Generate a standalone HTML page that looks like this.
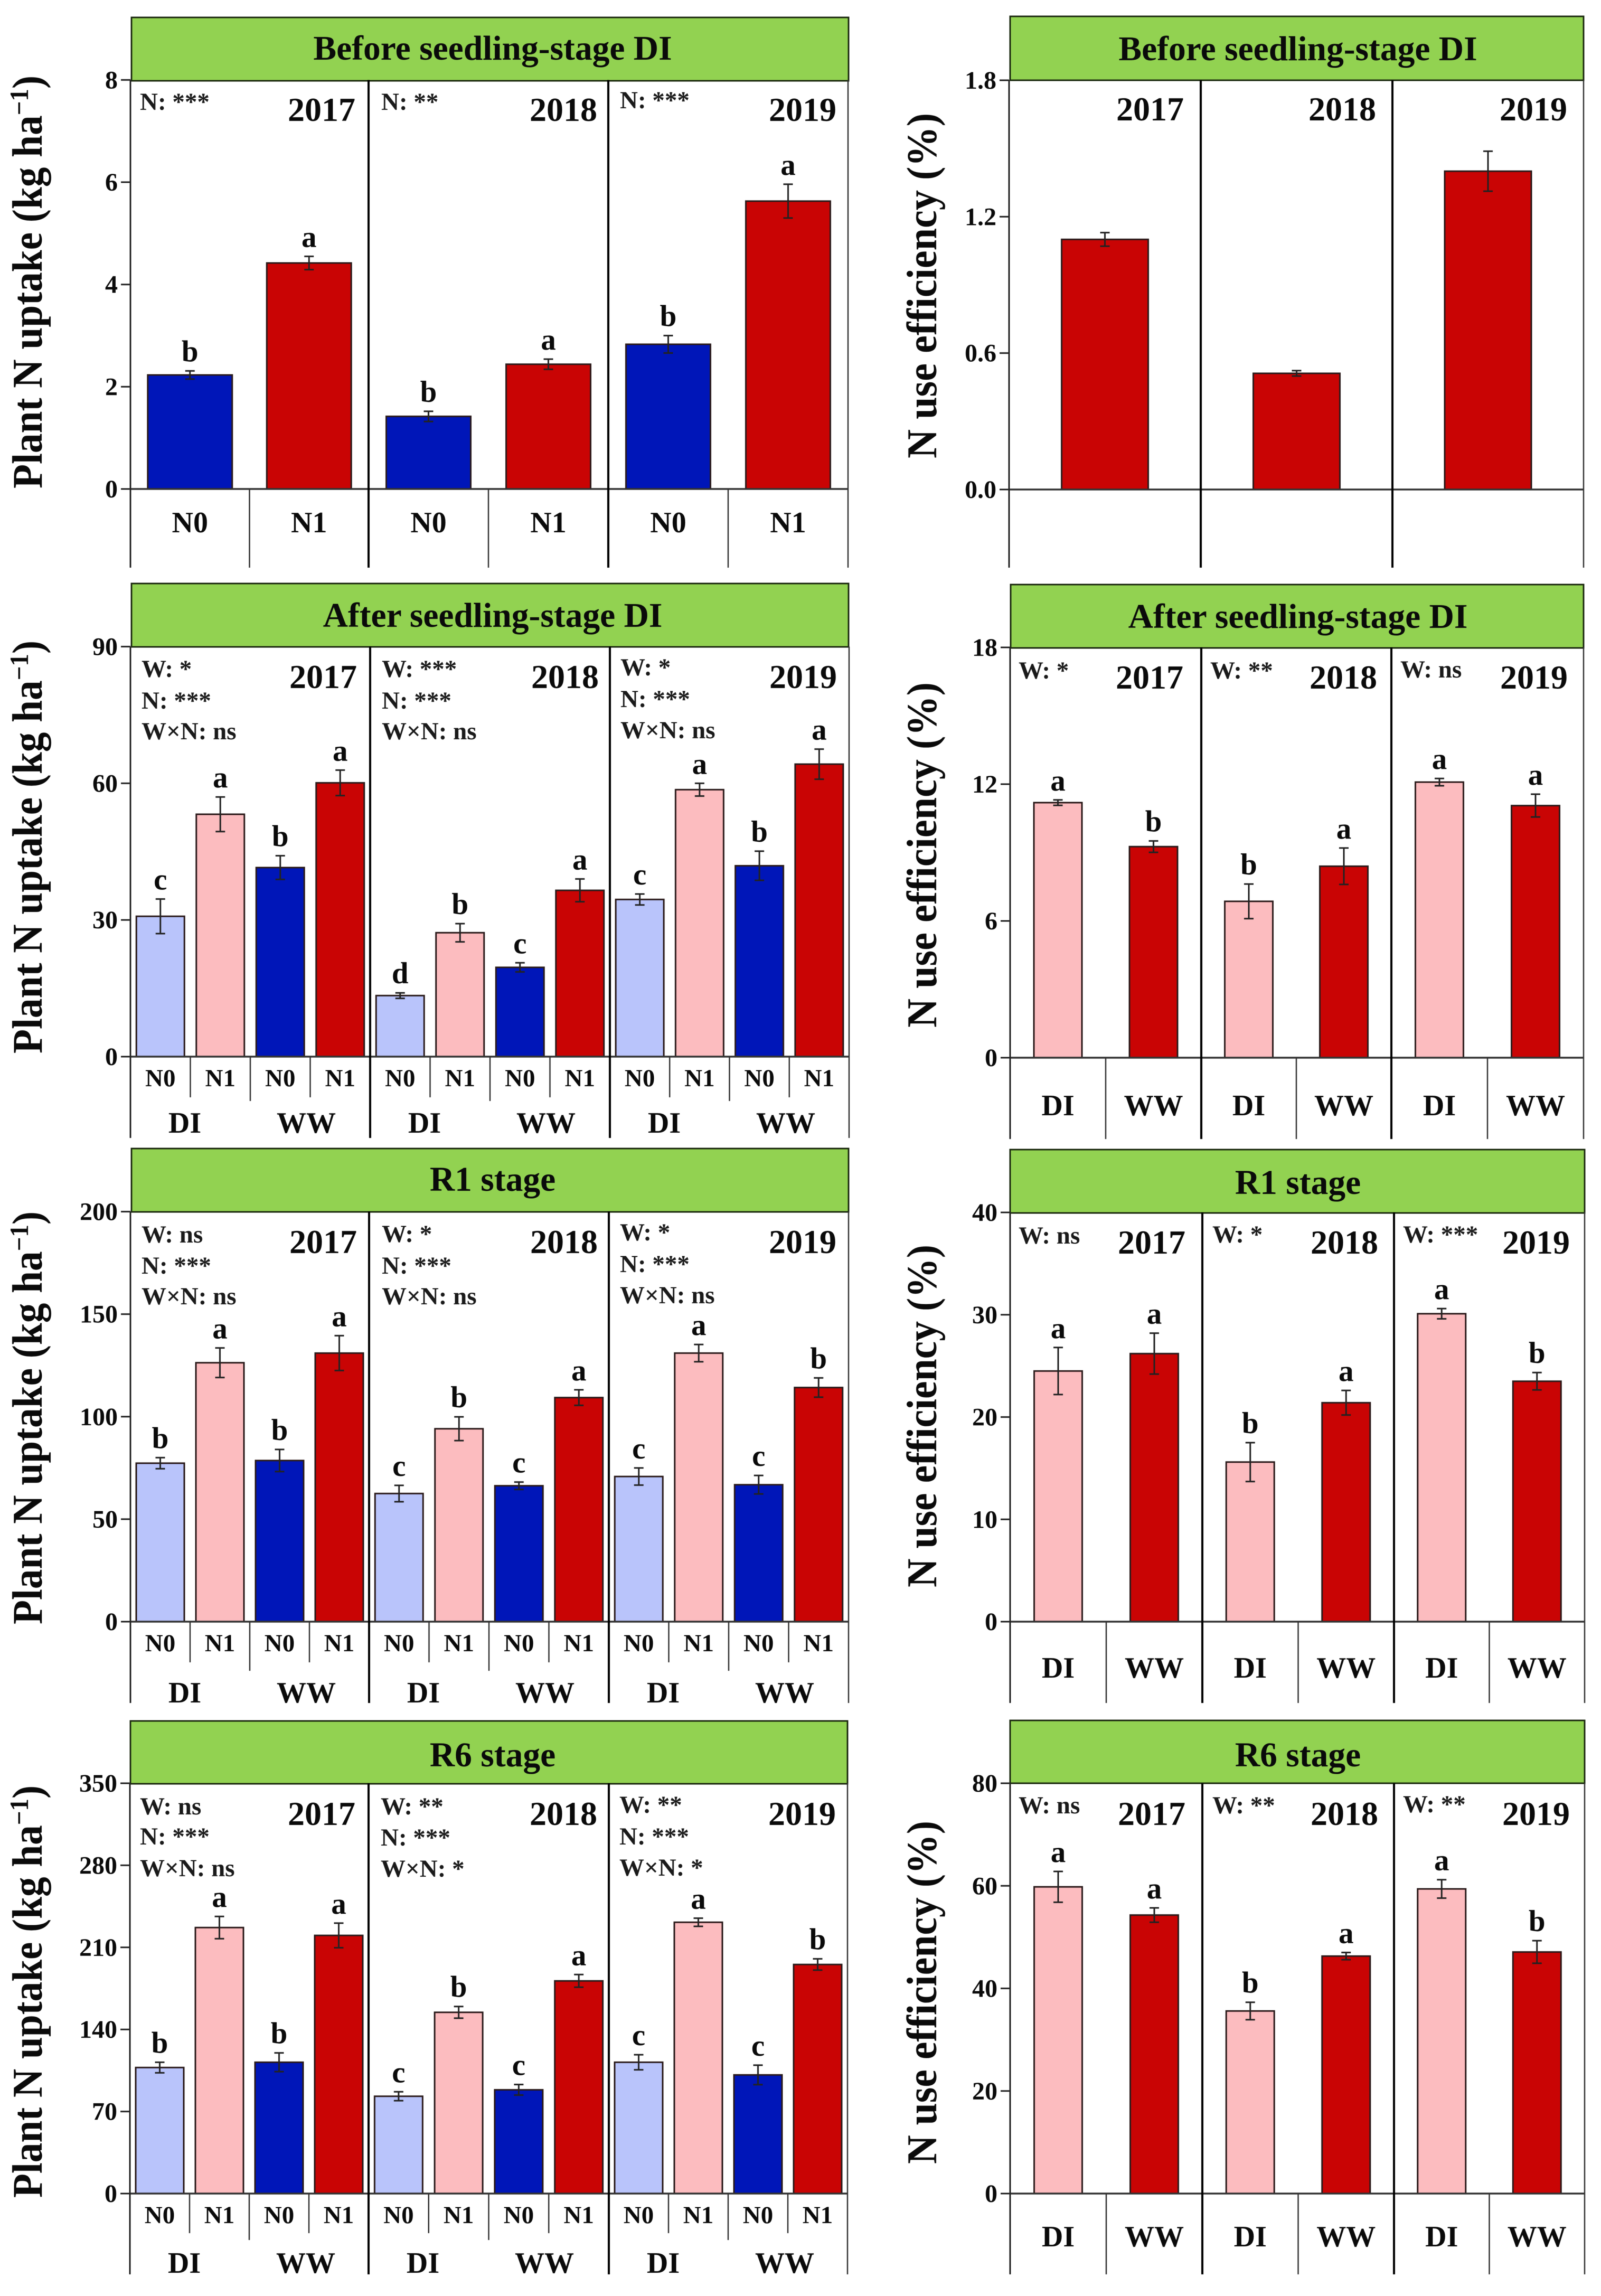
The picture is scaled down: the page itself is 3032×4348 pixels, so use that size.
<!DOCTYPE html>
<html lang="en">
<head>
<meta charset="utf-8">
<title>Plant N uptake and N use efficiency</title>
<style>
html,body{margin:0;padding:0;background:#fff;}
svg{display:block;filter:blur(0.7px);}
text{font-family:"Liberation Serif",serif;font-weight:bold;fill:#0a0a0a;}
.hdr{fill:#92d251;stroke:#1c2a10;stroke-width:3;}
.title{font-size:65.5px;text-anchor:middle;}
.ytitle{font-size:80px;}
.year{font-size:64px;text-anchor:end;}
.sig{font-size:47px;fill:#1a1a1a;}
</style>
</head>
<body>
<svg id="chart" xmlns="http://www.w3.org/2000/svg" width="3032" height="4348" viewBox="0 0 3032 4348">
<rect x="0" y="0" width="3032" height="4348" fill="#fff"/>

<!-- Row 1 left -->
<rect class="hdr" x="249" y="33" width="1358" height="120"/>
<text class="title" x="933" y="113">Before seedling-stage DI</text>
<text class="ytitle" transform="translate(79,925) rotate(-90)" textLength="782" lengthAdjust="spacingAndGlyphs">Plant N uptake (kg ha<tspan dy="-26" font-size="50">−1</tspan><tspan dy="26">)</tspan></text>
<text class="year" x="673" y="229">2017</text>
<text class="year" x="1131" y="229">2018</text>
<text class="year" x="1584" y="229">2019</text>
<text class="sig" x="265" y="208">N: ***</text>
<text class="sig" x="722" y="208">N: **</text>
<text class="sig" x="1174" y="205">N: ***</text>

<!-- Row 1 right -->
<rect class="hdr" x="1913" y="31" width="1086" height="121"/>
<text class="title" x="2458" y="114">Before seedling-stage DI</text>
<text class="ytitle" transform="translate(1773,868) rotate(-90)" textLength="654" lengthAdjust="spacingAndGlyphs">N use efficiency (%)</text>
<text class="year" x="2242" y="228">2017</text>
<text class="year" x="2606" y="228">2018</text>
<text class="year" x="2968" y="228">2019</text>

<!-- Row 2 left -->
<rect class="hdr" x="249" y="1105" width="1358" height="120"/>
<text class="title" x="933" y="1187">After seedling-stage DI</text>
<text class="ytitle" transform="translate(79,1995) rotate(-90)" textLength="782" lengthAdjust="spacingAndGlyphs">Plant N uptake (kg ha<tspan dy="-26" font-size="50">−1</tspan><tspan dy="26">)</tspan></text>
<text class="year" x="676" y="1303">2017</text>
<text class="year" x="1134" y="1303">2018</text>
<text class="year" x="1585" y="1303">2019</text>
<text class="sig" x="268" y="1282">W: *</text>
<text class="sig" x="268" y="1342">N: ***</text>
<text class="sig" x="268" y="1400">W×N: ns</text>
<text class="sig" x="723" y="1282">W: ***</text>
<text class="sig" x="723" y="1342">N: ***</text>
<text class="sig" x="723" y="1400">W×N: ns</text>
<text class="sig" x="1175" y="1279">W: *</text>
<text class="sig" x="1175" y="1339">N: ***</text>
<text class="sig" x="1175" y="1398">W×N: ns</text>

<!-- Row 2 right -->
<rect class="hdr" x="1914" y="1107" width="1085" height="120"/>
<text class="title" x="2458" y="1189">After seedling-stage DI</text>
<text class="ytitle" transform="translate(1773,1946) rotate(-90)" textLength="654" lengthAdjust="spacingAndGlyphs">N use efficiency (%)</text>
<text class="year" x="2241" y="1304">2017</text>
<text class="year" x="2608" y="1304">2018</text>
<text class="year" x="2969" y="1304">2019</text>
<text class="sig" x="1929" y="1285">W: *</text>
<text class="sig" x="2292" y="1285">W: **</text>
<text class="sig" x="2652" y="1283">W: ns</text>

<!-- Row 3 left -->
<rect class="hdr" x="249" y="2175" width="1358" height="120"/>
<text class="title" x="933" y="2255">R1 stage</text>
<text class="ytitle" transform="translate(79,3076) rotate(-90)" textLength="782" lengthAdjust="spacingAndGlyphs">Plant N uptake (kg ha<tspan dy="-26" font-size="50">−1</tspan><tspan dy="26">)</tspan></text>
<text class="year" x="676" y="2373">2017</text>
<text class="year" x="1132" y="2373">2018</text>
<text class="year" x="1584" y="2373">2019</text>
<text class="sig" x="268" y="2353">W: ns</text>
<text class="sig" x="268" y="2412">N: ***</text>
<text class="sig" x="268" y="2470">W×N: ns</text>
<text class="sig" x="723" y="2352">W: *</text>
<text class="sig" x="723" y="2412">N: ***</text>
<text class="sig" x="723" y="2470">W×N: ns</text>
<text class="sig" x="1174" y="2349">W: *</text>
<text class="sig" x="1174" y="2409">N: ***</text>
<text class="sig" x="1174" y="2468">W×N: ns</text>

<!-- Row 3 right -->
<rect class="hdr" x="1913" y="2177" width="1088" height="120"/>
<text class="title" x="2458" y="2261">R1 stage</text>
<text class="ytitle" transform="translate(1773,3006) rotate(-90)" textLength="649" lengthAdjust="spacingAndGlyphs">N use efficiency (%)</text>
<text class="year" x="2245" y="2374">2017</text>
<text class="year" x="2610" y="2374">2018</text>
<text class="year" x="2973" y="2374">2019</text>
<text class="sig" x="1929" y="2355">W: ns</text>
<text class="sig" x="2296" y="2353">W: *</text>
<text class="sig" x="2657" y="2353">W: ***</text>

<!-- Row 4 left -->
<rect class="hdr" x="247" y="3259" width="1358" height="119"/>
<text class="title" x="933" y="3345">R6 stage</text>
<text class="ytitle" transform="translate(79,4162) rotate(-90)" textLength="781" lengthAdjust="spacingAndGlyphs">Plant N uptake (kg ha<tspan dy="-26" font-size="50">−1</tspan><tspan dy="26">)</tspan></text>
<text class="year" x="673" y="3456">2017</text>
<text class="year" x="1131" y="3456">2018</text>
<text class="year" x="1583" y="3456">2019</text>
<text class="sig" x="265" y="3436">W: ns</text>
<text class="sig" x="265" y="3493">N: ***</text>
<text class="sig" x="265" y="3553">W×N: ns</text>
<text class="sig" x="721" y="3436">W: **</text>
<text class="sig" x="721" y="3495">N: ***</text>
<text class="sig" x="721" y="3554">W×N: *</text>
<text class="sig" x="1173" y="3433">W: **</text>
<text class="sig" x="1173" y="3493">N: ***</text>
<text class="sig" x="1173" y="3552">W×N: *</text>

<!-- Row 4 right -->
<rect class="hdr" x="1913" y="3258" width="1088" height="119"/>
<text class="title" x="2458" y="3345">R6 stage</text>
<text class="ytitle" transform="translate(1773,4098) rotate(-90)" textLength="650" lengthAdjust="spacingAndGlyphs">N use efficiency (%)</text>
<text class="year" x="2245" y="3456">2017</text>
<text class="year" x="2610" y="3456">2018</text>
<text class="year" x="2973" y="3456">2019</text>
<text class="sig" x="1929" y="3434">W: ns</text>
<text class="sig" x="2296" y="3434">W: **</text>
<text class="sig" x="2657" y="3432">W: **</text>
</svg>

<script>
// ---- Data (three years in order 2017, 2018, 2019) ----
const nLevels = ['N0', 'N1'];
const waterLevels = ['DI', 'WW'];

const beforeUptakeTicks = ['0', '2', '4', '6', '8'];
const beforeUptakeValues = [2.23, 4.42, 1.42, 2.44, 2.83, 5.63];
const beforeUptakeErrors = [0.08, 0.13, 0.10, 0.10, 0.17, 0.33];
const beforeUptakeLetters = ['b', 'a', 'b', 'a', 'b', 'a'];

const beforeNueTicks = ['0.0', '0.6', '1.2', '1.8'];
const beforeNueValues = [1.10, 0.511, 1.40];
const beforeNueErrors = [0.03, 0.012, 0.088];

const afterUptakeTicks = ['0', '30', '60', '90'];
const afterUptakeValues = [30.8, 53.2, 41.5, 60.1, 13.4, 27.2, 19.6, 36.5, 34.5, 58.6, 41.9, 64.2];
const afterUptakeErrors = [3.8, 3.8, 2.6, 2.8, 0.6, 2.0, 1.0, 2.5, 1.2, 1.4, 3.2, 3.3];
const afterUptakeLetters = ['c', 'a', 'b', 'a', 'd', 'b', 'c', 'a', 'c', 'a', 'b', 'a'];

const afterNueTicks = ['0', '6', '12', '18'];
const afterNueValues = [11.19, 9.26, 6.86, 8.4, 12.09, 11.06];
const afterNueErrors = [0.12, 0.25, 0.76, 0.8, 0.16, 0.5];
const afterNueLetters = ['a', 'b', 'b', 'a', 'a', 'a'];

const r1UptakeTicks = ['0', '50', '100', '150', '200'];
const r1UptakeValues = [77.3, 126.3, 78.6, 131, 62.5, 94.1, 66.3, 109.3, 70.8, 131, 66.8, 114.2];
const r1UptakeErrors = [2.7, 7.2, 5.4, 8.5, 4, 5.8, 1.8, 3.8, 4.2, 4.2, 4.5, 4.7];
const r1UptakeLetters = ['b', 'a', 'b', 'a', 'c', 'b', 'c', 'a', 'c', 'a', 'c', 'b'];

const r1NueTicks = ['0', '10', '20', '30', '40'];
const r1NueValues = [24.5, 26.2, 15.6, 21.4, 30.1, 23.5];
const r1NueErrors = [2.3, 2.0, 1.9, 1.2, 0.5, 0.85];
const r1NueLetters = ['a', 'a', 'b', 'a', 'a', 'b'];

const r6UptakeTicks = ['0', '70', '140', '210', '280', '350'];
const r6UptakeValues = [107.5, 226.9, 112, 220.2, 83, 154.6, 88.5, 181.4, 112, 231.4, 101.2, 195.4];
const r6UptakeErrors = [4.5, 9.5, 8, 10.5, 3.8, 5, 4.5, 5.4, 6.4, 3.5, 8.3, 4.8];
const r6UptakeLetters = ['b', 'a', 'b', 'a', 'c', 'b', 'c', 'a', 'c', 'a', 'c', 'b'];

const r6NueTicks = ['0', '20', '40', '60', '80'];
const r6NueValues = [59.8, 54.3, 35.6, 46.3, 59.4, 47.1];
const r6NueErrors = [3.0, 1.4, 1.7, 0.7, 1.8, 2.2];
const r6NueLetters = ['a', 'a', 'b', 'a', 'a', 'b'];

// ---- Palette ----
const LB = '#b9c4fb', PK = '#fcbcbf', DB = '#0016b8', RD = '#c90404';

// ---- Panel geometry ----
const panels = [
  {id:'before-uptake', x0:247, edges:[698,1152,1606], yTop:151.4, y0:926, bottom:1075, ticks:beforeUptakeTicks, values:beforeUptakeValues, errors:beforeUptakeErrors, letters:beforeUptakeLetters, perYear:2, fills:[DB,RD], barW:160, cats:nLevels, catY:1008, catSize:56, midEnd:[1075,1075]},
  {id:'before-nue', x0:1911, edges:[2274,2637,2999], yTop:152, y0:927, bottom:1075, ticks:beforeNueTicks, values:beforeNueValues, errors:beforeNueErrors, letters:null, perYear:1, fills:[RD], barW:164, cats:null},
  {id:'after-uptake', x0:247, edges:[701,1155,1608], yTop:1224.5, y0:2001, bottom:2155, ticks:afterUptakeTicks, values:afterUptakeValues, errors:afterUptakeErrors, letters:afterUptakeLetters, perYear:4, fills:[LB,PK,DB,RD], barW:91, cats:nLevels, catY:2057, catSize:47, midEnd:[2078,2085], waterY:2145},
  {id:'after-nue', x0:1913, edges:[2275,2635,2999], yTop:1226, y0:2003, bottom:2157, ticks:afterNueTicks, values:afterNueValues, errors:afterNueErrors, letters:afterNueLetters, perYear:2, fills:[PK,RD], barW:91, cats:waterLevels, catY:2112, catSize:56, midEnd:[2157,2157]},
  {id:'r1-uptake', x0:247, edges:[699,1153,1607], yTop:2294.5, y0:3071, bottom:3225, ticks:r1UptakeTicks, values:r1UptakeValues, errors:r1UptakeErrors, letters:r1UptakeLetters, perYear:4, fills:[LB,PK,DB,RD], barW:91, cats:nLevels, catY:3127, catSize:47, midEnd:[3148,3164], waterY:3224},
  {id:'r1-nue', x0:1913, edges:[2277,2640,3001], yTop:2296, y0:3071, bottom:3225, ticks:r1NueTicks, values:r1NueValues, errors:r1NueErrors, letters:r1NueLetters, perYear:2, fills:[PK,RD], barW:91, cats:waterLevels, catY:3177, catSize:56, midEnd:[3225,3225]},
  {id:'r6-uptake', x0:246, edges:[698,1153,1605], yTop:3377, y0:4154, bottom:4307, ticks:r6UptakeTicks, values:r6UptakeValues, errors:r6UptakeErrors, letters:r6UptakeLetters, perYear:4, fills:[LB,PK,DB,RD], barW:91, cats:nLevels, catY:4210, catSize:47, midEnd:[4229,4242], waterY:4304},
  {id:'r6-nue', x0:1913, edges:[2277,2640,3001], yTop:3377, y0:4154, bottom:4307, ticks:r6NueTicks, values:r6NueValues, errors:r6NueErrors, letters:r6NueLetters, perYear:2, fills:[PK,RD], barW:91, cats:waterLevels, catY:4254, catSize:56, midEnd:[4307,4307]}
];

const svg = document.getElementById('chart');
const NS = 'http://www.w3.org/2000/svg';

function shape(tag, props) {
  const el = document.createElementNS(NS, tag);
  for (const k in props) el.setAttribute(k, props[k]);
  svg.appendChild(el);
  return el;
}
function yScale(p, v) {
  const tickMax = parseFloat(p.ticks[p.ticks.length - 1]);
  return p.y0 - (v / tickMax) * (p.y0 - p.yTop);
}
function label(str, x, y, size, anchor) {
  const el = shape('text', {x: x, y: y, 'text-anchor': anchor});
  el.style.fontSize = size + 'px';
  el.textContent = str;
  return el;
}

panels.forEach(function (p) {
  const starts = [p.x0, p.edges[0], p.edges[1]];

  // bars, error bars and significance letters
  p.values.forEach(function (v, i) {
    const yearIdx = Math.floor(i / p.perYear);
    const slot = i % p.perYear;
    const left = starts[yearIdx];
    const right = p.edges[yearIdx];
    const cx = left + (right - left) * (slot + 0.5) / p.perYear;
    const top = yScale(p, v);
    const bar = shape('rect', {x: cx - p.barW / 2, y: top, width: p.barW, height: p.y0 - top, fill: p.fills[slot], stroke: '#2a1a1a', 'stroke-width': 3});
    
    

    const eTop = yScale(p, v + p.errors[i]);
    const eBot = yScale(p, v - p.errors[i]);
    const stem = shape('line', {x1: cx, x2: cx, y1: eTop, y2: eBot, stroke: '#222', 'stroke-width': 3});
    
    
    const capT = shape('line', {x1: cx - 9, x2: cx + 9, y1: eTop, y2: eTop, stroke: '#222', 'stroke-width': 3});
    
    
    const capB = shape('line', {x1: cx - 9, x2: cx + 9, y1: eBot, y2: eBot, stroke: '#222', 'stroke-width': 3});
    
    

    if (p.letters) {
      const letter = label(p.letters[i], cx, eTop - 18, 57, 'middle');
      
      
    }

    // category tick labels under each bar
    if (p.cats) {
      const catIdx = p.perYear === 4 ? slot % 2 : slot;
      const cat = label(p.cats[catIdx], cx, p.catY, p.catSize, 'middle');
      
      
    }
  });

  // water-regime labels below four-bar panels
  if (p.waterY) {
    starts.forEach(function (s) {
      waterLevels.forEach(function (w, j) {
        const t = label(w, s + (j === 0 ? 103 : 333), p.waterY, 56, 'middle');
        
        
      });
    });
  }

  // y ticks and labels
  p.ticks.forEach(function (t) {
    const y = yScale(p, parseFloat(t));
    const mark = shape('line', {x1: p.x0 - 18, x2: p.x0, y1: y, y2: y, stroke: '#222', 'stroke-width': 3});
    
    
    const tl = label(t, p.x0 - 24, y + 16, 48, 'end');
    
    
  });

  // axis frame
  const zero = shape('line', {x1: p.x0, x2: p.edges[2], y1: p.y0, y2: p.y0, stroke: '#333', 'stroke-width': 3.5});
  
  
  const axis = shape('line', {x1: p.x0, x2: p.x0, y1: p.yTop, y2: p.bottom, stroke: '#222', 'stroke-width': 3});
  
  
  p.edges.forEach(function (x, i) {
    const div = shape('line', {x1: x, x2: x, y1: p.yTop, y2: p.bottom, stroke: i === 2 ? '#333' : '#000', 'stroke-width': i === 2 ? 2.5 : 4});
    
    
  });

  // separators between categories
  if (p.cats) {
    starts.forEach(function (s, k) {
      const w = p.edges[k] - s;
      const count = p.perYear;
      for (let j = 1; j < count; j++) {
        const xx = s + w * j / count;
        const end = count === 4 ? (j === 2 ? p.midEnd[1] : p.midEnd[0]) : p.midEnd[1];
        const sep = shape('line', {x1: xx, x2: xx, y1: p.y0, y2: end, stroke: '#333', 'stroke-width': 2.5});
        
        
      }
    });
  }
});
</script>
</body>
</html>
